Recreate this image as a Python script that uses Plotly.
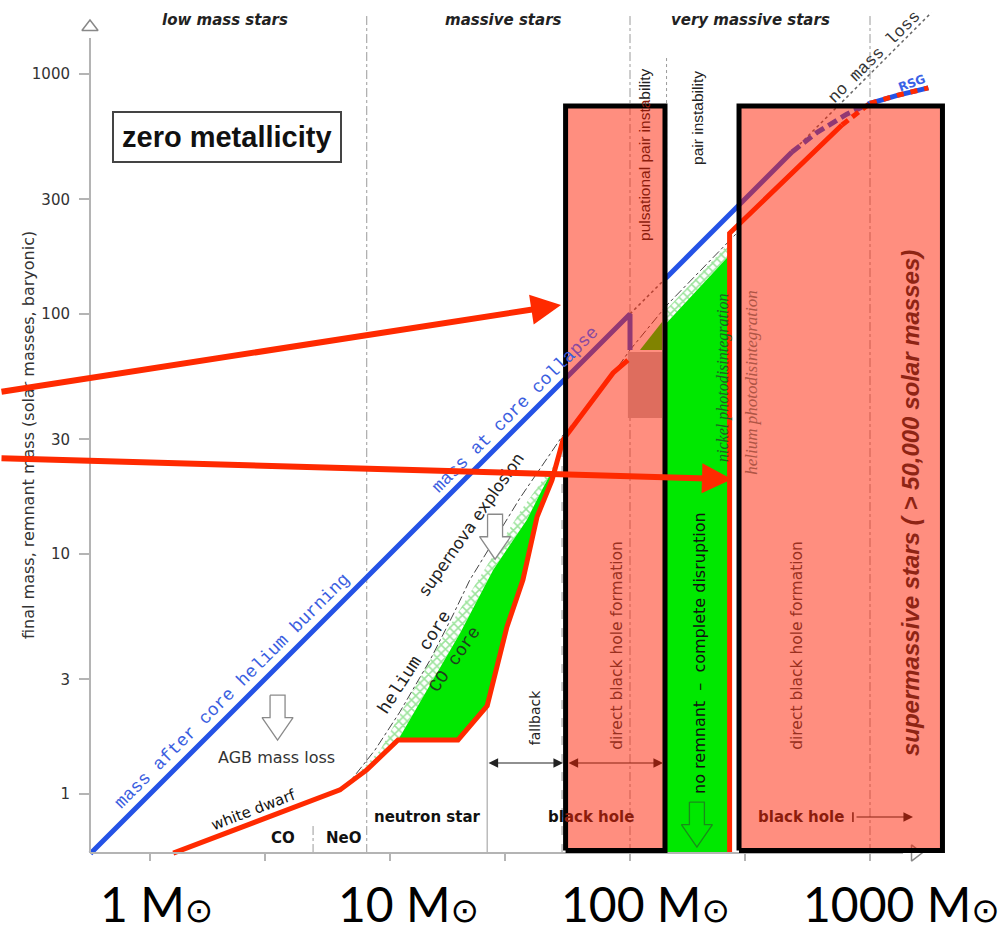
import numpy as np
import plotly.graph_objects as go

SANS = "DejaVu Sans, sans-serif"
NARROW = "Liberation Sans, Arial, sans-serif"
MONO = "Liberation Mono, Courier New, monospace"
SERIF = "Liberation Serif, Times New Roman, serif"
BIG = "Lato, DejaVu Sans, sans-serif"

BLUE = "#2452e6"
RED = "#ff2a00"
GREEN = "#00e800"
HATCH = "#38c838"
GRID = "#9a9a9a"
AXIS = "#b4b4b4"
OVERLAY = "rgba(255,30,0,0.5)"
DARKRED = "#8c1c0c"

# ---- axis frame (initial mass at the y axis, final mass at the x axis)
M_AXIS = 0.5623
F_AXIS = 0.5675

y_tick_vals = [1, 3, 10, 30, 100, 300, 1000]
y_tick_text = ["1", "3", "10", "30", "100", "300", "1000"]
x_tick_vals = [1, 3, 10, 30, 100, 300, 1000]
big_tick_vals = [1, 10, 100, 1000]
big_tick_text = ["1", "10", "100", "1000"]
big_tick_shift = [6, 18, 15, 31]

# ---- mass after core helium burning / at core collapse (blue)
core_m = [0.565, 100, 100]
core_f = [0.565, 100, 70.8]
core_hi_m = [141, 473]
core_hi_f = [141, 473]
core_dash_m = [473, 600, 800, 1000]
core_dash_f = [473, 570, 680, 755]
rsg_m = [1000, 1300, 1750]
rsg_f = [755, 815, 875]

# ---- remnant mass (red)
rem_m = [1.25, 6.19, 8.0, 10.8, 19.2, 25.4, 30.7, 35.8, 41.0, 47.3, 52.6, 63.7, 72.9, 85.0, 98.0]
rem_f = [F_AXIS, 1.04, 1.26, 1.68, 1.68, 2.33, 4.97, 7.8, 14.3, 20.3, 29.9, 38.7, 46.9, 56.8, 64.3]
rem_hi_m = [260, 260, 764]
rem_hi_f = [F_AXIS, 217, 613]
rem_dash_m = [764, 1000]
rem_dash_f = [613, 755]

# ---- helium core (dash-dot)
he_m = [6.49, 8.66, 11.0, 14.7, 18.3, 21.5, 34.8, 52.6, 75.0, 100, 142.6, 282]
he_f = [1.06, 1.525, 2.20, 3.62, 5.57, 7.79, 17.1, 31.3, 47.3, 70.8, 109, 220]

# ---- CO core (top of the green region)
co_m = [11.0, 14.3, 19.6, 26.9, 37.2, 43.0, 49.6]
co_f = [1.73, 2.71, 4.69, 8.58, 13.9, 18.5, 24.2]

# ---- upper edge of the hatched band
hatch_m = [6.49, 9.09, 16.6, 34.8, 44.2, 49.6]
hatch_f = [1.07, 1.52, 4.5, 15.0, 21.0, 24.2]

# ---- pair-instability supernova range
pisn_m = [141, 260]
pisn_top_f = [91, 176]
pisn_hatch_f = [104, 198]

# ---- pulsational pair-instability range
ppi_gray_m = [98, 136]
ppi_gray_f = [36.9, 69.5]
ppi_green_m = [110, 136, 136]
ppi_green_f = [70.8, 92.6, 70.8]

# ---- regime boundaries
divider_m = [8, 100, 1000]
divider_top = 1762
pp_edge_m, pp_edge_top = 142, 1177
co_neo_m, co_neo_top = 4.78, 0.757
ns_bh_m, ns_bh_top = 25.4, 2.33
fb_m, fb_top = 52.1, 29.9
nml_m = [100, 1800]

# ---- highlighted boxes
box_m = [(53.9, 139.9), (284.6, 2004)]
box_f = (0.5815, 736)

# ---- open block arrows (centre in data units)
block_arrows = [(3.40, 2.08, "#8a8a8a", "white"),
                (27.4, 11.8, "#8a8a8a", "white"),
                (190, 0.746, "#1a8a1a", GREEN)]
# outline of a block arrow in screen pixels around its centre (x right, y down)
ARROW_OUTLINE = [(-7.5, -22.5), (7.5, -22.5), (7.5, 0), (15.5, 0), (0, 22.5),
                 (-15.5, 0), (-7.5, 0), (-7.5, -22.5)]
PX_PER_DECADE = 240

fig = go.Figure()


def line(m, f, color, width, dash=None):
    fig.add_trace(go.Scatter(x=m, y=f, mode="lines", hoverinfo="skip",
                             line=dict(color=color, width=width, dash=dash)))


def poly(m, f, color, pattern=None, edge=None, ew=0):
    fig.add_trace(go.Scatter(x=list(m) + [m[0]], y=list(f) + [f[0]], mode="lines",
                             fill="toself", fillcolor=color, hoverinfo="skip",
                             line=dict(width=ew, color=edge or color), fillpattern=pattern))


# regime dividers
for m in divider_m:
    line([m, m], [F_AXIS, divider_top], GRID, 1, "dashdot")
line([pp_edge_m, pp_edge_m], [F_AXIS, pp_edge_top], GRID, 1, "dot")
line([co_neo_m, co_neo_m], [F_AXIS, co_neo_top], GRID, 1, "dashdot")
line([ns_bh_m, ns_bh_m], [F_AXIS, ns_bh_top], GRID, 1)
line([fb_m, fb_m], [F_AXIS, fb_top], GRID, 1, "dash")

# hatched band between the remnant/CO core and the helium core
lower = [(m, f) for m, f in zip(rem_m, rem_f) if 6.0 < m <= 10.8] + list(zip(co_m, co_f))
hp = dict(shape="x", fgcolor=HATCH, bgcolor="white", size=6, solidity=0.45)
poly(hatch_m + [p[0] for p in lower[::-1]], hatch_f + [p[1] for p in lower[::-1]], "white", hp)
poly([pisn_m[0], pisn_m[1], pisn_m[1], pisn_m[0]],
     [pisn_top_f[0], pisn_top_f[1], pisn_hatch_f[1], pisn_hatch_f[0]], "white", hp)

# green CO core region above the remnant
under = [(m, f) for m, f in zip(rem_m, rem_f) if 10.8 <= m < co_m[-1]]
poly(co_m + [p[0] for p in under[::-1]], co_f + [p[1] for p in under[::-1]], GREEN)
poly([pisn_m[0], pisn_m[1], pisn_m[1], pisn_m[0]],
     [F_AXIS, F_AXIS, pisn_top_f[1], pisn_top_f[0]], GREEN)
poly(ppi_green_m, ppi_green_f, GREEN)
poly([ppi_gray_m[0], ppi_gray_m[1], ppi_gray_m[1], ppi_gray_m[0]],
     [ppi_gray_f[0], ppi_gray_f[0], ppi_gray_f[1], ppi_gray_f[1]], "#bcbcbc")

# helium core and the no-mass-loss line
line(he_m, he_f, "#444444", 1, "dashdot")
line(nml_m, nml_m, "#666666", 1.5, "dot")

# final mass (blue)
line(core_m, core_f, BLUE, 5)
line(core_hi_m, core_hi_f, BLUE, 5)
line(core_dash_m, core_dash_f, BLUE, 5, "10px,5px")
line(rsg_m, rsg_f, BLUE, 5)

# remnant mass (red)
line(rem_m, rem_f, RED, 5)
line(rem_hi_m, rem_hi_f, RED, 5)
line(rem_dash_m, rem_dash_f, RED, 5, "8px,5px")
line(rsg_m, rsg_f, RED, 5, "7px,7px")

# start bar of the black hole arrow at high mass
line([849, 849], [0.765, 0.84], "#222222", 1.5)

# open block arrows
for cm, cf, edge, fill in block_arrows:
    am = [cm * 10 ** (dx / PX_PER_DECADE) for dx, dy in ARROW_OUTLINE]
    af = [cf * 10 ** (-dy / PX_PER_DECADE) for dx, dy in ARROW_OUTLINE]
    poly(am, af, fill, edge=edge, ew=1.3)

# axes with open arrowheads
line([M_AXIS, M_AXIS], [F_AXIS, 1413], AXIS, 2)
line([M_AXIS, 1373], [F_AXIS, F_AXIS], AXIS, 2)
fig.add_trace(go.Scatter(x=[M_AXIS, 1540], y=[1570, F_AXIS], mode="markers", hoverinfo="skip",
                         marker=dict(symbol=["triangle-up-open", "triangle-right-open"], size=14,
                                     color="#888888", line=dict(width=1.5, color="#888888"))))

# highlighted mass ranges
for a, b in box_m:
    fig.add_trace(go.Scatter(x=[a, b, b, a, a], y=[box_f[0], box_f[0], box_f[1], box_f[1], box_f[0]],
                             mode="lines", fill="toself", fillcolor=OVERLAY, hoverinfo="skip",
                             line=dict(color="black", width=5)))


def note(m, f, text, size=14, color="#222222", angle=0, family=SANS, **kw):
    return dict(x=np.log10(m), y=np.log10(f), xref="x", yref="y", text=text, showarrow=False,
                textangle=angle, font=dict(size=size, color=color, family=family), **kw)


ann = [
    note(2.05, 1679, "<b><i>low mass stars</i></b>", 15),
    note(29.6, 1679, "<b><i>massive stars</i></b>", 15),
    note(319, 1679, "<b><i>very massive stars</i></b>", 15),
    note(2.09, 546, "<b>zero metallicity</b>", 29, "#111111", 0, NARROW, bgcolor="white",
         bordercolor="#444444", borderwidth=2, borderpad=8),
    note(2.2, 2.69, "mass after core helium burning", 18, "#3a5ee0", -45, MONO),
    note(33.2, 39.8, "mass at core colla<span style='color:#8a4aa0'>pse</span>", 18, "#3a5ee0", -45, MONO),
    note(12.7, 3.55, "helium core", 18, "#222222", -57, MONO),
    note(18.7, 3.65, "CO core", 18, "#1e3e1e", -55, MONO),
    note(21.8, 13.3, "supernova explosion", 16.5, "#222222", -55),
    note(2.69, 0.858, "white dwarf", 15, "#111111", -21),
    note(3.38, 1.426, "AGB mass loss", 16, "#333333"),
    note(3.58, 0.656, "<b>CO</b>", 15, "#111111"),
    note(6.37, 0.656, "<b>NeO</b>", 15, "#111111"),
    note(14.3, 0.802, "<b>neutron star</b>", 15, "#111111"),
    note(68.8, 0.802, "<b><span style='color:#111111'>bl</span>ack hole</b>", 15, DARKRED),
    note(516, 0.802, "<b>black hole</b>", 15, DARKRED),
    note(40.2, 2.07, "fallback", 14, "#222222", -90),
    note(88.2, 4.18, "direct black hole formation", 15.5, "#9a3020", -90),
    note(496, 4.18, "direct black hole formation", 15.5, "#9a3020", -90),
    note(195.7, 3.87, "no remnant  \u2013  complete disruption", 16, "#111111", -90),
    note(115.5, 460, "pulsational pair insta<span style='color:#222222'>bility</span>", 15.5, DARKRED,
         -90, NARROW),
    note(192, 656, "pair instability", 15.5, "#222222", -90, NARROW),
    note(244, 54.1, "<i>nickel photodisintegration</i>", 16, "#206020", -90, SERIF),
    note(322, 52.1, "<i>helium photodisintegration</i>", 17, "#b05545", -90, SERIF),
    note(1468, 16.3, "<b><i>supermassive stars ( &gt; 50,000 solar masses)</i></b>", 24, "#8e2414",
         -90, NARROW),
    note(1039, 1177, "no mass loss", 17, "#333333", -45, MONO),
    note(1496, 917, "<b>RSG</b>", 12, "#3a62e6", -20),
    note(0.31, 31.3, "final mass, remnant mass (solar masses, baryonic)", 16, "#333333", -90),
]

# large mass labels under the x axis
for v, t, s in zip(big_tick_vals, big_tick_text, big_tick_shift):
    ann.append(note(v, 0.351, t + " M<span style='font-size:34px;font-family:DejaVu Sans'>\u2299</span>",
                    48, "#000000", 0, BIG, xshift=s))

# double-headed range arrows
ann.append(dict(x=np.log10(52.6), y=np.log10(1.346), xref="x", yref="y", text="", showarrow=True,
                ax=-76, ay=0, arrowhead=2, arrowside="end+start", arrowsize=1.6, arrowwidth=1.2,
                arrowcolor="#222222", standoff=0, startstandoff=0))
ann.append(dict(x=np.log10(137.3), y=np.log10(1.346), xref="x", yref="y", text="", showarrow=True,
                ax=-96, ay=0, arrowhead=2, arrowside="end+start", arrowsize=1.6, arrowwidth=1.2,
                arrowcolor="#8a2010", standoff=0, startstandoff=0))
ann.append(dict(x=np.log10(1511), y=np.log10(0.802), xref="x", yref="y", text="", showarrow=True,
                ax=-58, ay=0, arrowhead=2, arrowsize=1.6, arrowwidth=1.2, arrowcolor="#8a2010",
                standoff=0))

# pointer arrows
ann.append(dict(x=np.log10(51.6), y=np.log10(109), xref="x", yref="y", text="", showarrow=True,
                ax=-575, ay=87, arrowhead=2, arrowsize=1.0, arrowwidth=6, arrowcolor=RED, standoff=0))
ann.append(dict(x=np.log10(266), y=np.log10(20.5), xref="x", yref="y", text="", showarrow=True,
                ax=-745, ay=-21, arrowhead=2, arrowsize=1.0, arrowwidth=6, arrowcolor=RED, standoff=0))

fig.update_layout(
    width=1004, height=936, margin=dict(l=0, r=0, t=0, b=0),
    paper_bgcolor="white", plot_bgcolor="white", showlegend=False,
    annotations=ann,
    xaxis=dict(type="log", range=[-0.625, 3.5583], domain=[0, 1], anchor="free",
               position=(936 - 853) / 936, showgrid=False, zeroline=False, showline=False,
               ticks="outside", ticklen=7, tickwidth=1.5, tickcolor=AXIS,
               tickvals=x_tick_vals, showticklabels=False),
    yaxis=dict(type="log", range=[-0.5917, 3.3083], domain=[0, 1], anchor="free",
               position=90 / 1004, showgrid=False, zeroline=False, showline=False,
               ticks="outside", ticklen=11, tickwidth=1.5, tickcolor=AXIS,
               tickvals=y_tick_vals, ticktext=y_tick_text, ticklabelstandoff=6,
               tickfont=dict(size=15, color="#333333", family=SANS)),
)

fig.write_html("out.html")
